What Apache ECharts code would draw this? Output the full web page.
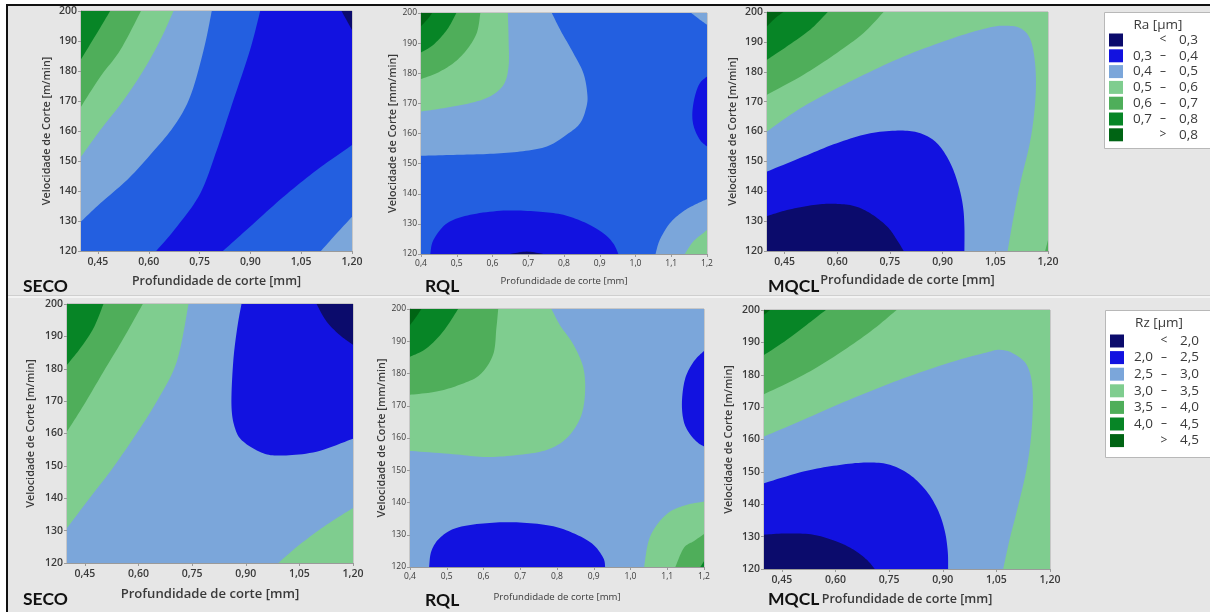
<!DOCTYPE html>
<html>
<head>
<meta charset="utf-8">
<script src="https://cdn.jsdelivr.net/npm/echarts@6/dist/echarts.min.js"></script>
<style>
html,body{margin:0;padding:0;background:#fff;}
#chart{width:1210px;height:612px;}
</style>
</head>
<body>
<div id="chart"></div>
<script>
// ---------------- DATA ----------------
const depthTicksWide = [0.45, 0.60, 0.75, 0.90, 1.05, 1.20];
const speedRange = [120, 200];
const depthRange = [0.4, 1.2];

const raLegendTitle = 'Ra [µm]';
const raLegendRows = [['', '<', '0,3'], ['0,3', '–', '0,4'], ['0,4', '–', '0,5'], ['0,5', '–', '0,6'], ['0,6', '–', '0,7'], ['0,7', '–', '0,8'], ['', '>', '0,8']];
const rzLegendTitle = 'Rz [µm]';
const rzLegendRows = [['', '<', '2,0'], ['2,0', '–', '2,5'], ['2,5', '–', '3,0'], ['3,0', '–', '3,5'], ['3,5', '–', '4,0'], ['4,0', '–', '4,5'], ['', '>', '4,5']];
const legendLevels = ['navy', 'bright', 'lightblue', 'lightgreen', 'midgreen', 'green', 'darkgreen'];

const panelNames = ['SECO', 'RQL', 'MQCL', 'SECO', 'RQL', 'MQCL'];

const fullArea = [[0.4, 120], [1.2, 120], [1.2, 200], [0.4, 200]];

// SECO - Ra
const secoRa_bright = [[0.622,120],[0.683,128.1],[0.752,139.2],[0.801,153.7],[0.850,170.3],[0.899,187],[0.929,200],[1.2,200],[1.2,155.3],[1.096,147],[0.998,138.1],[0.899,128.1],[0.819,120]];
const secoRa_lightblueBR = [[1.108,120],[1.155,125.9],[1.2,131.4],[1.2,120]];
const secoRa_navy = [[1.169,200],[1.2,193.7],[1.2,200]];
const secoRa_lightblue = [[0.4,129.8],[0.457,135.9],[0.536,143.7],[0.604,152.0],[0.673,161.4],[0.722,171.4],[0.762,187.0],[0.786,200],[0.4,200]];
const secoRa_lightgreen = [[0.4,151.4],[0.457,160.3],[0.526,170.3],[0.585,180.3],[0.634,190.3],[0.673,200],[0.4,200]];
const secoRa_midgreen = [[0.4,168.1],[0.457,178.1],[0.516,187.0],[0.577,200],[0.4,200]];
const secoRa_green = [[0.4,183.9],[0.447,192.6],[0.486,200],[0.4,200]];

// RQL - Ra
const rqlRa_lightblue = [[0.4,152.6],[0.491,152.9],[0.584,153.2],[0.677,154.0],[0.752,155.7],[0.807,159.6],[0.845,163.4],[0.863,169.0],[0.865,173.4],[0.854,180.1],[0.826,186.7],[0.789,194.5],[0.766,200],[0.4,200]];
const rqlRa_lightgreen = [[0.4,167.3],[0.463,168.4],[0.538,170.1],[0.593,172.3],[0.631,176.2],[0.645,182.3],[0.645,191.1],[0.643,200],[0.4,200]];
const rqlRa_midgreen = [[0.4,178.1],[0.445,180.1],[0.491,183.4],[0.528,187.8],[0.556,193.4],[0.566,200],[0.4,200]];
const rqlRa_green = [[0.4,186.9],[0.435,189.5],[0.473,194.5],[0.499,200],[0.4,200]];
const rqlRa_darkgreen = [[0.4,195.6],[0.421,198.3],[0.431,200],[0.4,200]];
const rqlRa_brightBottom = [[0.426,120],[0.435,124.7],[0.473,130.2],[0.538,133.0],[0.631,134.4],[0.724,134.1],[0.798,133.0],[0.863,130.2],[0.910,126.9],[0.938,123.5],[0.952,120]];
const rqlRa_navy = [[0.649,120],[0.696,120.8],[0.742,120]];
const rqlRa_brightRight = [[1.2,178.9],[1.180,176.7],[1.166,172.3],[1.159,166.8],[1.163,162.3],[1.180,157.9],[1.2,155.7]];
const rqlRa_lightblueBR = [[1.056,120],[1.068,124.7],[1.096,130.2],[1.133,134.1],[1.170,136.6],[1.2,138.2],[1.2,120]];
const rqlRa_lightgreenBR = [[1.138,120],[1.161,124.1],[1.189,126.9],[1.2,128.0],[1.2,120]];
const rqlRa_lightblueTR = [[1.156,200],[1.180,197.8],[1.2,196.1],[1.2,200]];

// MQCL - Ra
const mqclRa_lightblue = [[0.4,160.0],[0.504,168.4],[0.647,177.3],[0.789,185.1],[0.931,191.3],[1.026,194.6],[1.074,195.4],[1.121,194.6],[1.150,190.7],[1.164,181.8],[1.164,170.6],[1.150,157.2],[1.121,142.7],[1.102,131.5],[1.085,120],[0.4,120]];
const mqclRa_bright = [[0.4,146.6],[0.504,151.6],[0.599,156.1],[0.694,159.4],[0.780,160.3],[0.837,159.4],[0.884,156.1],[0.922,149.4],[0.946,141.6],[0.958,134.9],[0.962,128.2],[0.962,120],[0.4,120]];
const mqclRa_navy = [[0.4,131.7],[0.457,133.7],[0.533,135.4],[0.590,135.8],[0.647,135.1],[0.694,132.6],[0.742,128.2],[0.770,123.7],[0.789,120],[0.4,120]];
const mqclRa_midgreen = [[0.4,172.3],[0.504,179.0],[0.599,186.3],[0.675,193.0],[0.732,200],[0.4,200]];
const mqclRa_green = [[0.4,184.0],[0.457,188.5],[0.523,194.1],[0.573,200],[0.4,200]];
const mqclRa_darkgreen = [[0.4,195.2],[0.424,198.0],[0.447,200],[0.4,200]];
const mqclRa_midgreenBR = [[1.192,120],[1.2,123.7],[1.2,120]];

// SECO - Rz
const secoRz_lightgreen = [[0.4,130.8],[0.456,139.0],[0.521,148.3],[0.586,158.6],[0.651,169.9],[0.707,182.2],[0.740,200],[0.4,200]];
const secoRz_midgreen = [[0.4,160.6],[0.447,168.8],[0.502,179.1],[0.558,189.4],[0.612,200],[0.4,200]];
const secoRz_green = [[0.4,181.2],[0.437,186.3],[0.474,192.5],[0.502,200],[0.4,200]];
const secoRz_bright = [[0.888,200],[0.876,192.5],[0.865,182.2],[0.860,168.8],[0.870,161.6],[0.893,157.5],[0.949,153.9],[1.005,153.2],[1.098,154.4],[1.2,158.4],[1.2,200]];
const secoRz_navy = [[1.098,200],[1.126,194.6],[1.163,190.4],[1.2,187.4],[1.2,200]];
const secoRz_lightgreenBR = [[0.991,120],[1.051,125.7],[1.126,131.8],[1.2,137.0],[1.2,120]];

// RQL - Rz
const rqlRz_lightgreen = [[0.4,156.0],[0.517,155.0],[0.608,154.1],[0.699,154.8],[0.772,156.3],[0.826,159.9],[0.863,166.1],[0.876,173.4],[0.872,181.6],[0.845,188.9],[0.808,195.0],[0.785,200],[0.4,200]];
const rqlRz_midgreen = [[0.4,173.4],[0.472,174.4],[0.535,176.5],[0.590,179.6],[0.626,185.8],[0.635,194.0],[0.640,200],[0.4,200]];
const rqlRz_green = [[0.4,185.2],[0.445,187.8],[0.490,193.0],[0.531,200],[0.4,200]];
const rqlRz_darkgreen = [[0.4,195.0],[0.417,197.6],[0.431,200],[0.4,200]];
const rqlRz_brightBottom = [[0.452,120],[0.458,124.9],[0.481,129.0],[0.526,132.1],[0.608,133.6],[0.699,133.8],[0.790,132.6],[0.854,130.0],[0.899,126.9],[0.926,122.8],[0.931,120]];
const rqlRz_brightRight = [[1.2,187.0],[1.172,183.7],[1.149,178.5],[1.140,171.3],[1.145,165.1],[1.163,161.0],[1.185,158.4],[1.2,157.4]];
const rqlRz_lightgreenBR = [[1.037,120],[1.049,128.0],[1.072,133.1],[1.108,137.2],[1.154,139.3],[1.2,140.3],[1.2,120]];
const rqlRz_midgreenBR = [[1.122,120],[1.145,125.9],[1.172,128.0],[1.2,130.2],[1.2,120]];
const rqlRz_greenBR = [[1.190,120],[1.2,121.8],[1.2,120]];

// MQCL - Rz
const mqclRz_lightblue = [[0.4,160.9],[0.510,166.1],[0.650,172.8],[0.790,178.9],[0.930,184.1],[1.023,186.9],[1.060,187.7],[1.097,186.6],[1.135,183.0],[1.151,175.8],[1.149,163.5],[1.135,151.2],[1.107,137.8],[1.088,129.6],[1.069,120],[0.4,120]];
const mqclRz_bright = [[0.4,146.5],[0.510,150.1],[0.603,152.0],[0.687,152.9],[0.752,152.2],[0.808,149.1],[0.855,144.0],[0.888,137.8],[0.906,131.6],[0.914,125.4],[0.915,120],[0.4,120]];
const mqclRz_navy = [[0.4,130.6],[0.463,131.0],[0.538,130.6],[0.603,128.5],[0.650,126.0],[0.687,122.9],[0.710,120],[0.4,120]];
const mqclRz_midgreen = [[0.4,174.0],[0.510,179.9],[0.603,186.1],[0.697,193.3],[0.771,200],[0.4,200]];
const mqclRz_green = [[0.4,186.1],[0.463,190.7],[0.519,195.4],[0.573,200],[0.4,200]];
const mqclRz_darkgreen = [[0.4,198.5],[0.417,200],[0.4,200]];

// layers (drawn in order) : [level, polygon]
const secoRaLayers = [['royal', fullArea], ['bright', secoRa_bright], ['lightblue', secoRa_lightblueBR], ['navy', secoRa_navy], ['lightblue', secoRa_lightblue], ['lightgreen', secoRa_lightgreen], ['midgreen', secoRa_midgreen], ['green', secoRa_green]];
const rqlRaLayers = [['royal', fullArea], ['lightblue', rqlRa_lightblue], ['lightgreen', rqlRa_lightgreen], ['midgreen', rqlRa_midgreen], ['green', rqlRa_green], ['darkgreen', rqlRa_darkgreen], ['bright', rqlRa_brightBottom], ['navy', rqlRa_navy], ['bright', rqlRa_brightRight], ['lightblue', rqlRa_lightblueBR], ['lightgreen', rqlRa_lightgreenBR], ['lightblue', rqlRa_lightblueTR]];
const mqclRaLayers = [['lightgreen', fullArea], ['lightblue', mqclRa_lightblue], ['bright', mqclRa_bright], ['navy', mqclRa_navy], ['midgreen', mqclRa_midgreen], ['green', mqclRa_green], ['darkgreen', mqclRa_darkgreen], ['midgreen', mqclRa_midgreenBR]];
const secoRzLayers = [['lightblue', fullArea], ['lightgreen', secoRz_lightgreen], ['midgreen', secoRz_midgreen], ['green', secoRz_green], ['bright', secoRz_bright], ['navy', secoRz_navy], ['lightgreen', secoRz_lightgreenBR]];
const rqlRzLayers = [['lightblue', fullArea], ['lightgreen', rqlRz_lightgreen], ['midgreen', rqlRz_midgreen], ['green', rqlRz_green], ['darkgreen', rqlRz_darkgreen], ['bright', rqlRz_brightBottom], ['bright', rqlRz_brightRight], ['lightgreen', rqlRz_lightgreenBR], ['midgreen', rqlRz_midgreenBR], ['green', rqlRz_greenBR]];
const mqclRzLayers = [['lightgreen', fullArea], ['lightblue', mqclRz_lightblue], ['bright', mqclRz_bright], ['navy', mqclRz_navy], ['midgreen', mqclRz_midgreen], ['green', mqclRz_green], ['darkgreen', mqclRz_darkgreen]];

// ---------------- STYLE ----------------
const COLORS = {
  navy: '#0b0b6c', bright: '#1212e0', royal: '#235fe0', lightblue: '#7ba6da',
  lightgreen: '#7fcd8f', midgreen: '#4fae5a', green: '#078526', darkgreen: '#006414'
};
const BG = '#e6e6e6';
const TXT = '#3a3a3a';

const panelLayers = [secoRaLayers, rqlRaLayers, mqclRaLayers, secoRzLayers, rqlRzLayers, mqclRzLayers];
// grid pixel boxes: left, top, width, height
const gridBoxes = [
  [81, 11, 271, 240], [421, 13, 286, 241], [767, 12, 281, 239],
  [67, 304, 286, 259], [410, 309, 294, 258], [764, 310, 286, 259]
];
const small = [false, true, false, false, true, false];
const yTitles = ['Velocidade de Corte [m/min]', 'Velocidade de Corte [mm/min]', 'Velocidade de Corte [m/min]',
                 'Velocidade de Corte [m/min]', 'Velocidade de Corte [mm/min]', 'Velocidade de Corte [m/min]'];
const xTitle = 'Profundidade de corte [mm]';
const xTitleGap = [24, 22, 23, 25, 25, 24];
const xTitleSize = [12.4, 9.6, 12.8, 13.1, 9.6, 12.5];
const yTitleGap = [29, 22, 29, 31, 21, 30];
const labelPos = [[23, 287], [425, 287], [768, 287], [23, 600], [425, 601], [768, 600]];

function isCorner(p) {
  return (p[0] === depthRange[0] || p[0] === depthRange[1]) && (p[1] === speedRange[0] || p[1] === speedRange[1]);
}
// smooth drawing of the boundary runs (Catmull-Rom in pixel space), straight edges at plot corners
function smoothOutline(pixRuns) {
  const out = [];
  pixRuns.forEach(run => {
    if (run.corner || run.pts.length < 3) { run.pts.forEach(p => out.push(p)); return; }
    const r = run.pts, n = r.length;
    out.push(r[0]);
    for (let k = 0; k < n - 1; k++) {
      const p0 = r[Math.max(k - 1, 0)], p1 = r[k], p2 = r[k + 1], p3 = r[Math.min(k + 2, n - 1)];
      const c1 = [p1[0] + (p2[0] - p0[0]) / 6, p1[1] + (p2[1] - p0[1]) / 6];
      const c2 = [p2[0] - (p3[0] - p1[0]) / 6, p2[1] - (p3[1] - p1[1]) / 6];
      const steps = 10;
      for (let s = 1; s <= steps; s++) {
        const t = s / steps, u = 1 - t;
        out.push([
          u * u * u * p1[0] + 3 * u * u * t * c1[0] + 3 * u * t * t * c2[0] + t * t * t * p2[0],
          u * u * u * p1[1] + 3 * u * u * t * c1[1] + 3 * u * t * t * c2[1] + t * t * t * p2[1]
        ]);
      }
    }
  });
  return out;
}

const grids = [], xAxes = [], yAxes = [], series = [];
gridBoxes.forEach((b, i) => {
  const sm = small[i];
  grids.push({ left: b[0], top: b[1], width: b[2], height: b[3], show: true, borderColor: '#a8a8a8', borderWidth: 1, backgroundColor: 'transparent' });
  xAxes.push({
    type: 'value', gridIndex: i, min: depthRange[0], max: depthRange[1],
    interval: sm ? 0.1 : undefined,
    splitLine: { show: false },
    axisLine: { show: true, lineStyle: { color: '#9a9a9a' } },
    axisTick: sm ? { show: true, length: 3, lineStyle: { color: '#9a9a9a' } }
                 : { show: true, length: 3, customValues: depthTicksWide, lineStyle: { color: '#9a9a9a' } },
    axisLabel: sm ? { fontFamily: 'Open Sans', fontSize: 8.5, color: TXT, margin: 5, formatter: v => v.toFixed(1).replace('.', ',') }
                  : { fontFamily: 'Open Sans', fontSize: 10.5, fontWeight: 600, color: TXT, margin: 6, customValues: depthTicksWide, formatter: v => v.toFixed(2).replace('.', ',') },
    name: xTitle, nameLocation: 'middle', nameGap: xTitleGap[i],
    nameTextStyle: sm ? { fontFamily: 'Open Sans', fontSize: xTitleSize[i], color: TXT } : { fontFamily: 'Open Sans', fontSize: xTitleSize[i], fontWeight: 600, color: TXT }
  });
  yAxes.push({
    type: 'value', gridIndex: i, min: speedRange[0], max: speedRange[1], interval: 10,
    splitLine: { show: false },
    axisLine: { show: true, lineStyle: { color: '#9a9a9a' } },
    axisTick: { show: true, length: 3, lineStyle: { color: '#9a9a9a' } },
    axisLabel: sm ? { fontFamily: 'Open Sans', fontSize: 8.5, color: TXT, margin: 4 }
                  : { fontFamily: 'Open Sans', fontSize: 10.5, fontWeight: 600, color: TXT, margin: 4 },
    name: yTitles[i], nameLocation: 'middle', nameGap: yTitleGap[i],
    nameTextStyle: { fontFamily: 'Open Sans', fontSize: 10.8, fontWeight: 600, color: TXT }
  });
  const layers = panelLayers[i];
  series.push({
    type: 'custom', xAxisIndex: i, yAxisIndex: i, clip: true, silent: true,
    data: layers.map((l, k) => [0.8, 160, k]),
    encode: { x: 0, y: 1 },
    renderItem: function (params, api) {
      const layer = layers[params.dataIndex];
      const runs = [];
      let cur = null;
      layer[1].forEach(p => {
        const c = api.coord(p);
        if (isCorner(p)) { runs.push({ corner: true, pts: [c] }); cur = null; }
        else { if (!cur) { cur = { corner: false, pts: [] }; runs.push(cur); } cur.pts.push(c); }
      });
      const pts = smoothOutline(runs);
      return { type: 'polygon', shape: { points: pts }, style: { fill: COLORS[layer[0]], stroke: null } };
    }
  });
});

// legends + frame + panel labels
const graphic = [];
graphic.push({ type: 'rect', shape: { x: 0, y: 0, width: 1210, height: 4 }, style: { fill: '#ffffff' }, silent: true, z: 0 });
graphic.push({ type: 'rect', shape: { x: 0, y: 0, width: 6, height: 612 }, style: { fill: '#ffffff' }, silent: true, z: 0 });
graphic.push({ type: 'rect', shape: { x: 6, y: 4, width: 1204, height: 2 }, style: { fill: '#111111' }, silent: true, z: 0 });
graphic.push({ type: 'rect', shape: { x: 6, y: 4, width: 2, height: 608 }, style: { fill: '#111111' }, silent: true, z: 0 });
graphic.push({ type: 'rect', shape: { x: 8, y: 295, width: 1202, height: 1 }, style: { fill: '#cfcfcf' }, silent: true, z: 0 });
graphic.push({ type: 'rect', shape: { x: 8, y: 296, width: 1202, height: 2 }, style: { fill: '#f3f3f3' }, silent: true, z: 0 });

panelNames.forEach((n, i) => {
  graphic.push({ type: 'text', left: labelPos[i][0], top: labelPos[i][1] - 10, silent: true,
    style: { text: n, fontFamily: 'Lato', fontWeight: 'bold', fontSize: 17.5, fill: '#111111' } });
});

function addLegend(x, y, w, h, title, rows, rowY, step) {
  graphic.push({ type: 'rect', shape: { x: x + 0.5, y: y + 0.5, width: w, height: h }, style: { fill: '#ffffff', stroke: '#b8b8b8', lineWidth: 1 }, silent: true });
  graphic.push({ type: 'text', x: x + 54, y: y + 13.5, silent: true,
    style: { text: title, align: 'center', verticalAlign: 'middle', fontFamily: 'Open Sans', fontSize: 13.5, fill: TXT } });
  rows.forEach((r, k) => {
    const cy = rowY + k * step;
    graphic.push({ type: 'rect', shape: { x: x + 5, y: cy - 6.5, width: 14, height: 13 }, style: { fill: COLORS[legendLevels[k]] }, silent: true });
    if (r[0]) graphic.push({ type: 'text', x: x + 48, y: cy, silent: true, style: { text: r[0], align: 'right', verticalAlign: 'middle', fontFamily: 'Open Sans', fontSize: 13.5, fill: TXT } });
    graphic.push({ type: 'text', x: x + 59, y: cy, silent: true, style: { text: r[1], align: 'center', verticalAlign: 'middle', fontFamily: 'Open Sans', fontSize: 12, fill: TXT } });
    graphic.push({ type: 'text', x: x + 94, y: cy, silent: true, style: { text: r[2], align: 'right', verticalAlign: 'middle', fontFamily: 'Open Sans', fontSize: 13.5, fill: TXT } });
  });
}
addLegend(1104, 12, 106, 136, raLegendTitle, raLegendRows, 40, 15.8);
addLegend(1105, 310, 105, 147, rzLegendTitle, rzLegendRows, 341, 16.6);

const chart = echarts.init(document.getElementById('chart'), null, { renderer: 'canvas' });
chart.setOption({
  backgroundColor: BG,
  animation: false,
  grid: grids, xAxis: xAxes, yAxis: yAxes, series: series,
  graphic: graphic
});
</script>
</body>
</html>
